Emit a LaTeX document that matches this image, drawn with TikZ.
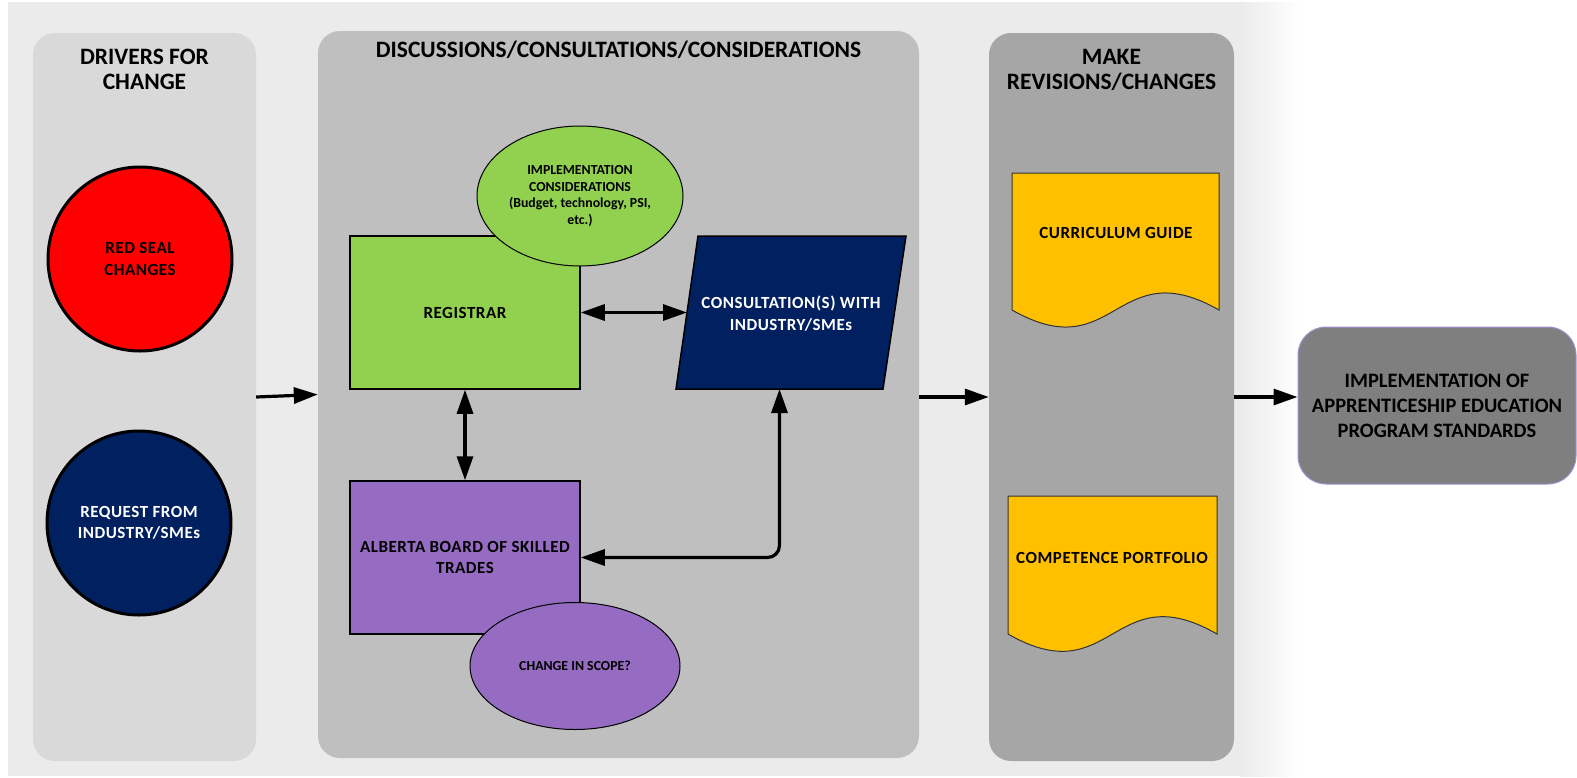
\documentclass[tikz,border=0pt]{standalone}
\usepackage{fontspec}
\setmainfont{Carlito}
\usetikzlibrary{shapes.geometric, arrows.meta, positioning}

\definecolor{bggray}{HTML}{EBEBEB}
\definecolor{colone}{HTML}{D9D9D9}
\definecolor{coltwo}{HTML}{BFBFBF}
\definecolor{colthree}{HTML}{A6A6A6}
\definecolor{colfinal}{HTML}{7F7F7F}
\definecolor{sealred}{HTML}{FF0000}
\definecolor{navy}{HTML}{002060}
\definecolor{leafgreen}{HTML}{92D050}
\definecolor{lilac}{HTML}{966CC2}
\definecolor{amber}{HTML}{FFC000}
\definecolor{edgeviolet}{HTML}{A58FD2}

\tikzset{
  panel/.style={rounded corners=22pt, inner sep=0pt},
  ptitle/.style={font=\fontsize{23.5}{25}\selectfont\bfseries, align=center},
  btext/.style={font=\fontsize{17}{21.5}\selectfont\bfseries\addfontfeature{LetterSpace=3}, align=center},
  stext/.style={font=\fontsize{13.8}{16.5}\selectfont\bfseries, align=center},
  driver/.style={circle, draw=black, line width=3pt, minimum size=184pt, inner sep=0pt, btext},
  stepbox/.style={rectangle, draw=black, line width=1.5pt, minimum width=230pt, minimum height=153pt, inner sep=0pt, btext},
  bubble/.style={ellipse, draw=black, line width=1pt, inner sep=0pt, stext},
  docbox/.style={fill=amber, draw=black!80, line width=1pt},
  flow/.style={-{Triangle[length=24pt, width=16pt]}, line width=3.2pt},
  dblflow/.style={{Triangle[length=24pt, width=16pt]}-{Triangle[length=24pt, width=16pt]}, line width=3.2pt}
}

\begin{document}
\begin{tikzpicture}[x=1pt, y=-1pt]
\useasboundingbox (0,0) rectangle (1577,777);
% backdrop
\fill[bggray] (8,2) rectangle (1240,776);
\shade[left color=bggray, right color=white] (1240,2) rectangle (1300,776);

% the three columns and the result
\node[panel, fill=colone, minimum width=223pt, minimum height=728pt] (drivers) at (144.5,397) {};
\node[panel, fill=coltwo, minimum width=601pt, minimum height=727pt] (discuss) at (618.5,394.5) {};
\node[panel, fill=colthree, minimum width=245pt, minimum height=728pt] (revise) at (1111.5,397) {};
\node[panel, rounded corners=28pt, fill=colfinal, draw=edgeviolet, line width=1pt,
      minimum width=278pt, minimum height=157pt, font=\fontsize{20.5}{25}\selectfont\bfseries, align=center]
      (final) at (1437,405.5) {IMPLEMENTATION OF\\APPRENTICESHIP EDUCATION\\PROGRAM STANDARDS};

\node[ptitle] (drivtitle) at (144.5,69.5) {DRIVERS FOR\\CHANGE};
\node[ptitle] (disctitle) at (618.5,50) {DISCUSSIONS/CONSULTATIONS/CONSIDERATIONS};
\node[ptitle] (revtitle) at (1111.5,69.5) {MAKE\\REVISIONS/CHANGES};

\node[driver, fill=sealred] (redseal) at (140,259) {RED SEAL\\CHANGES};
\node[driver, fill=navy, text=white] (request) at (139,523) {REQUEST FROM\\INDUSTRY/SMEs};

\node[stepbox, fill=leafgreen] (registrar) at (465,312.5) {REGISTRAR};
\node[bubble, fill=leafgreen, minimum width=206pt, minimum height=140pt] (impl) at (580,196)
  {IMPLEMENTATION\\CONSIDERATIONS\\(Budget, technology, PSI,\\etc.)};
% parallelogram drawn by hand
\filldraw[fill=navy, draw=black, line width=1.5pt] (698,236) -- (906,236) -- (883,389) -- (676,389) -- cycle;
\node[btext, text=white] (consult) at (791,313.5) {CONSULTATION(S) WITH\\INDUSTRY/SMEs};
\coordinate (consultW) at (687,312.5);
\coordinate (consultS) at (779.5,389);
\node[stepbox, fill=lilac] (board) at (465,557.5) {ALBERTA BOARD OF SKILLED\\TRADES};
\node[bubble, fill=lilac, minimum width=210pt, minimum height=127pt] (scope) at (575,666) {CHANGE IN SCOPE?};

% documents
\filldraw[docbox] (1012,173) -- (1219,173) -- (1219,310) .. controls (1115.5,251) and (1115.5,369) .. (1012,310) -- cycle;
\node[btext] (curric) at (1116,233) {CURRICULUM GUIDE};
\filldraw[docbox] (1008,496) -- (1217,496) -- (1217,634) .. controls (1112.5,574) and (1112.5,694) .. (1008,634) -- cycle;
\node[btext] (compet) at (1112,558) {COMPETENCE PORTFOLIO};

\draw[dblflow] (registrar.east) -- (consultW);
\draw[dblflow] (registrar.south) -- (board.north);
\draw[dblflow, rounded corners=12pt] (consultS) |- (board.east);

\draw[flow] (drivers.east) -- (discuss.west);
\draw[flow] (discuss.east |- revise.west) -- (revise.west);
\draw[flow] (revise.east) -- (final.west |- revise.east);
\end{tikzpicture}
\end{document}
